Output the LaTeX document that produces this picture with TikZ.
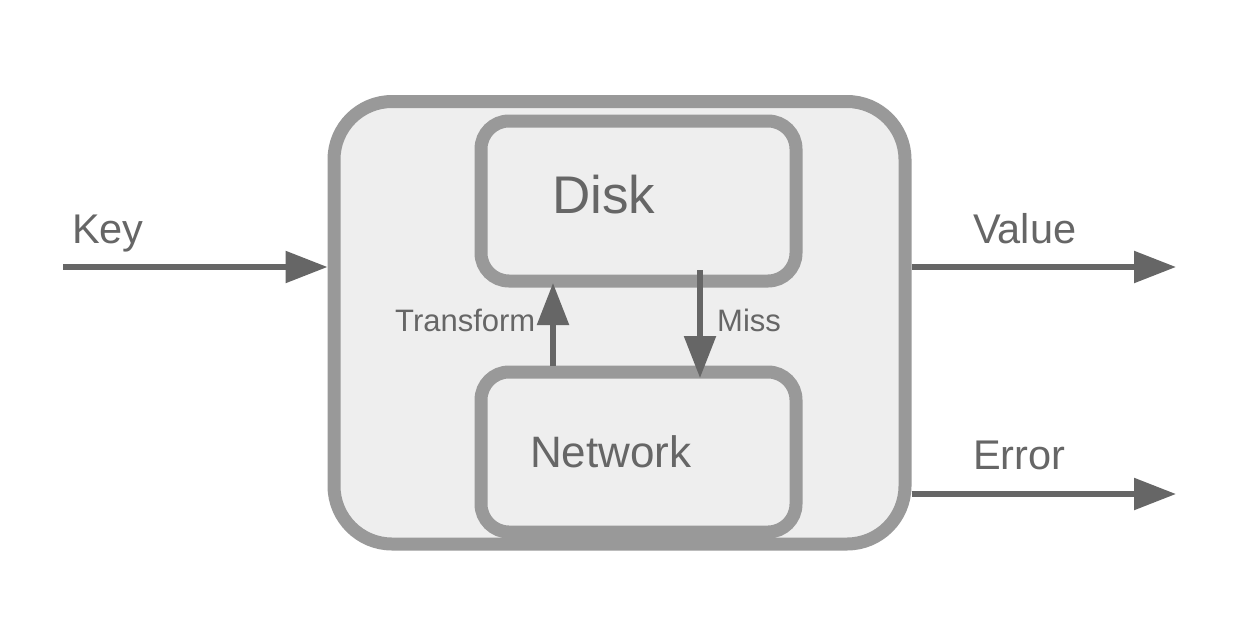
\documentclass[tikz,border=0pt]{standalone}
\usepackage{fontspec}
\setmainfont{Liberation Sans}
\usetikzlibrary{arrows.meta}
\definecolor{boxline}{HTML}{999999}
\definecolor{boxfill}{HTML}{EEEEEE}
\definecolor{ink}{HTML}{666666}
\tikzset{
  bigbox/.style={draw=boxline, fill=boxfill, line width=13pt, rounded corners=58pt, inner sep=0pt},
  smallbox/.style={draw=boxline, fill=boxfill, line width=13pt, rounded corners=28pt, inner sep=0pt, minimum width=315pt, minimum height=160pt},
  conn/.style={draw=ink, line width=5.5pt, -{Triangle[length=42pt,width=31pt]}},
  lbl/.style={text=ink, anchor=base west, inner sep=0pt},
}
\begin{document}
\begin{tikzpicture}[x=1pt,y=-1pt]
\useasboundingbox (0,0) rectangle (1236,624);
\fill[white] (0,0) rectangle (1236,624);
\node[bigbox, minimum width=571pt, minimum height=442.5pt] (outer) at (619.5,322.75) {};
\node[smallbox] (disk) at (638.5,201) {};
\node[smallbox] (net) at (638.5,452) {};
\node[lbl, font=\fontsize{53}{60}\selectfont] (disklbl) at (552,213) {Disk};
\node[lbl, font=\fontsize{44}{50}\selectfont] (netlbl) at (530,467) {Network};
\node[lbl, font=\fontsize{41.5}{46}\selectfont] (keylbl) at (72,243) {Key};
\node[lbl, font=\fontsize{41.5}{46}\selectfont] (vallbl) at (973,243) {Value};
\node[lbl, font=\fontsize{41.5}{46}\selectfont] (errlbl) at (973,469) {Error};
\node[lbl, font=\fontsize{31}{36}\selectfont] (trlbl) at (395,331) {Transform};
\node[lbl, font=\fontsize{31}{36}\selectfont] (misslbl) at (717,331) {Miss};
\coordinate (keyS) at (63,267);
\coordinate (valE) at (1176,267);
\coordinate (errE) at (1176,494);
\coordinate (trS) at (553,366);
\coordinate (trE) at (553,283);
\coordinate (missS) at (700,270);
\coordinate (missE) at (700,378);
\draw[conn] (keyS) -- (keyS -| outer.west);
\draw[conn] (valE -| outer.east) -- (valE);
\draw[conn] (errE -| outer.east) -- (errE);
\draw[conn] (trS) -- (trE);
\draw[conn] (missS) -- (missE);
\end{tikzpicture}
\end{document}
